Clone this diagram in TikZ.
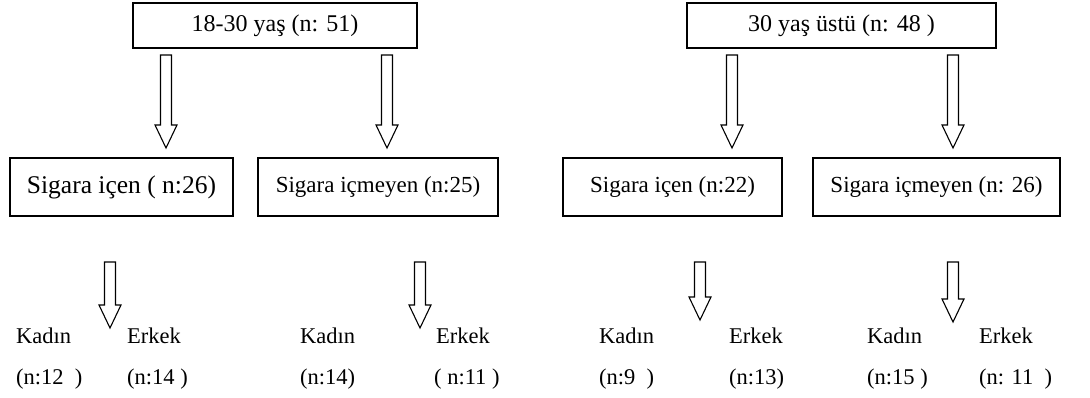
\documentclass[tikz,border=0pt]{standalone}
\usepackage{fontspec}
\setmainfont{Liberation Serif}
\newcommand\blockarr[3]{%
  \draw[arr] (#1-5.5,#2) -- (#1+5.5,#2) -- (#1+5.5,#3-23) -- (#1+11,#3-23)
    -- (#1,#3) -- (#1-11,#3-23) -- (#1-5.5,#3-23) -- cycle;}
\begin{document}
\begin{tikzpicture}[x=1pt,y=-1pt,
  box/.style={draw, line width=1.2pt, inner sep=0pt, font=\fontsize{23}{27}\selectfont},
  arr/.style={draw, line width=1.1pt, line join=miter, fill=white},
  lbl/.style={anchor=base west, inner sep=0pt, font=\fontsize{22.5}{27}\selectfont}]
\useasboundingbox (0,0) rectangle (1090,398);
% top boxes
\node[box, minimum width=284pt, minimum height=45pt, font=\fontsize{24}{28}\selectfont] (t1) at (275,25.5) {18-30 yaş (n: 51)};
\node[box, minimum width=309pt, minimum height=45pt, font=\fontsize{24}{28}\selectfont] (t2) at (841.5,25.5) {30 yaş üstü (n: 48 )};
% middle boxes
\node[box, minimum width=223pt, minimum height=58pt, font=\fontsize{25.5}{30}\selectfont] (m1) at (121.5,187) {Sigara içen ( n:26)};
\node[box, minimum width=240pt, minimum height=58pt] (m2) at (378,187) {Sigara içmeyen (n:25)};
\node[box, minimum width=219pt, minimum height=58pt] (m3) at (672.5,187) {Sigara içen (n:22)};
\node[box, minimum width=247pt, minimum height=58pt] (m4) at (936.5,187) {Sigara içmeyen (n: 26)};
% top arrows
\blockarr{166}{55}{148}
\blockarr{387}{55}{148}
\blockarr{732}{55}{148}
\blockarr{953}{55}{148}
% bottom arrows
\blockarr{110}{262}{328}
\blockarr{420}{262}{328}
\blockarr{700}{262}{320}
\blockarr{953}{262}{322}
% bottom labels
\node[lbl] (k1) at (16,343) {Kadın};
\node[lbl] (n1) at (16,384) {(n:12\ \ )};
\node[lbl] (e1) at (127,343) {Erkek};
\node[lbl] (n2) at (127,384) {(n:14 )};
\node[lbl] (k2) at (300,343) {Kadın};
\node[lbl] (n3) at (300,384) {(n:14)};
\node[lbl] (e2) at (436,343) {Erkek};
\node[lbl] (n4) at (434,384) {( n:11 )};
\node[lbl] (k3) at (599,343) {Kadın};
\node[lbl] (n5) at (599,384) {(n:9\ \ )};
\node[lbl] (e3) at (729,343) {Erkek};
\node[lbl] (n6) at (729,384) {(n:13)};
\node[lbl] (k4) at (867,343) {Kadın};
\node[lbl] (n7) at (867,384) {(n:15 )};
\node[lbl] (e4) at (979,343) {Erkek};
\node[lbl] (n8) at (979,384) {(n: 11\ \ )};
\end{tikzpicture}
\end{document}
